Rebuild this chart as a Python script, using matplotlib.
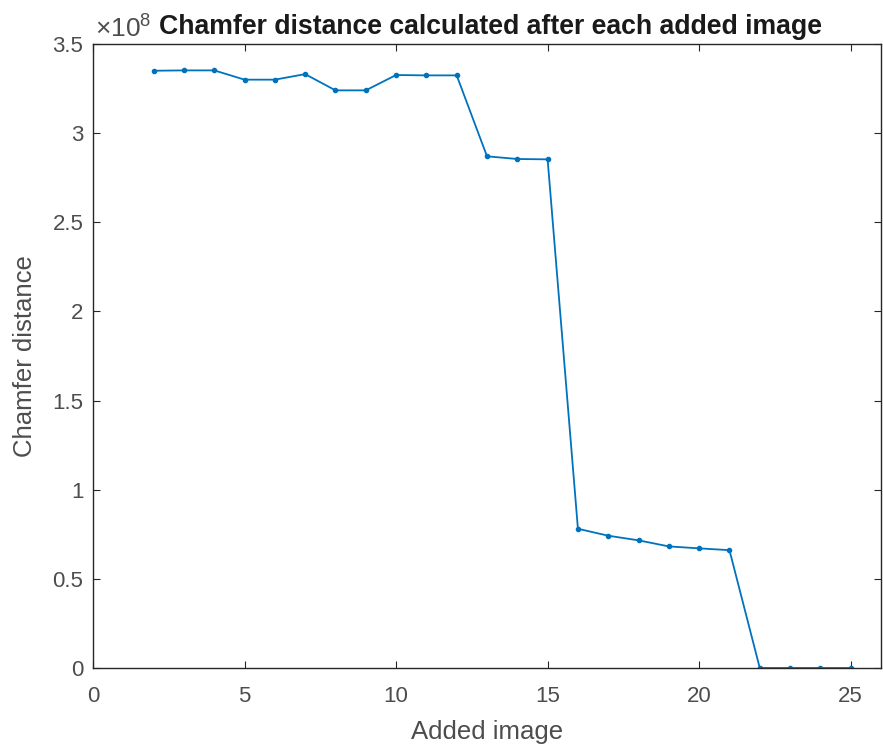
import matplotlib
matplotlib.use("Agg")
import matplotlib.pyplot as plt
from matplotlib.ticker import FuncFormatter

plt.rcParams['font.family'] = ['Liberation Sans', 'DejaVu Sans']
plt.rcParams['mathtext.fontset'] = 'custom'
plt.rcParams['mathtext.rm'] = 'Liberation Sans'
plt.rcParams['mathtext.it'] = 'Liberation Sans'

images_added = [2, 3, 4, 5, 6, 7, 8, 9, 10, 11, 12, 13, 14, 15, 16, 17, 18, 19, 20, 21, 22, 23, 24, 25]
chamfer_distance = [3.350e8, 3.352e8, 3.352e8, 3.300e8, 3.300e8, 3.331e8, 3.240e8, 3.240e8,
                    3.326e8, 3.324e8, 3.324e8, 2.870e8, 2.855e8, 2.853e8, 0.781e8, 0.742e8,
                    0.716e8, 0.682e8, 0.671e8, 0.661e8, 0.0, 0.0, 0.0, 0.0]

x_ticks = [0, 5, 10, 15, 20, 25]
y_ticks = [0, 0.5e8, 1e8, 1.5e8, 2e8, 2.5e8, 3e8, 3.5e8]

fig = plt.figure(figsize=(8.83, 7.49), dpi=100)
ax = fig.add_axes([93/883, 81/749, (881-93)/883, (668-44)/749])

ax.plot(images_added, chamfer_distance, color='#0072BD', linewidth=1.3,
        marker='.', markersize=6)

ax.set_xlim(0, 26)
ax.set_ylim(0, 3.5e8)
ax.set_xticks(x_ticks)
ax.set_yticks(y_ticks)
ax.yaxis.set_major_formatter(FuncFormatter(lambda v, p: f"{v/1e8:g}"))

tc = '#4d4d4d'
for s in ax.spines.values():
    s.set_color('#262626')
    s.set_linewidth(1.0)
ax.tick_params(direction='in', top=True, right=True, length=5, width=0.8,
               colors='#262626', labelcolor=tc, labelsize=16)
ax.tick_params(axis='x', pad=13)
ax.tick_params(axis='y', pad=7)

ax.set_xlabel('Added image', fontsize=18.5, color=tc, labelpad=9)
ax.set_ylabel('Chamfer distance', fontsize=18.5, color=tc, labelpad=11)
ax.text(0.002, 0.0096 + 1.0, r'$\times\mathregular{10^{8}}$', transform=ax.transAxes,
        fontsize=19, color=tc, ha='left', va='baseline')
ax.set_title('Chamfer distance calculated after each added image', fontsize=19.2,
             fontweight='bold', color='#1a1a1a', pad=7, x=0.504)

fig.savefig('out.png', dpi=100, facecolor='white')
